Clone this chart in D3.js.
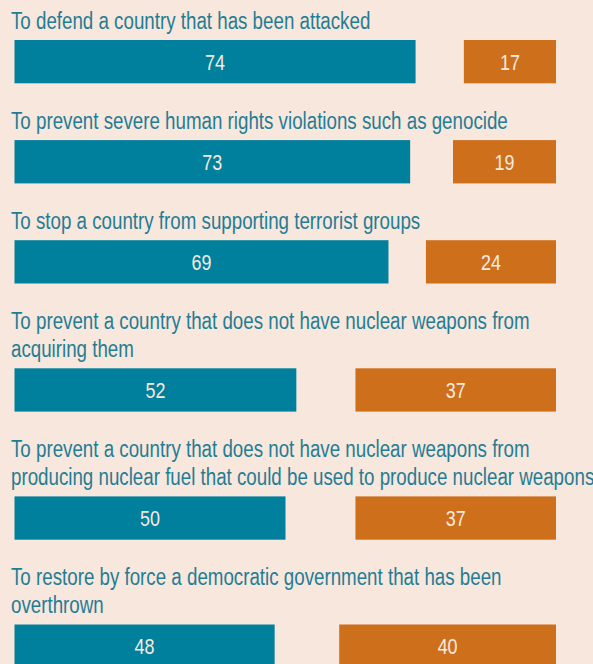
<!DOCTYPE html>
<html>
<head>
<meta charset="utf-8">
<script src="https://cdn.jsdelivr.net/npm/d3@7"></script>
<style>
  html, body { margin: 0; padding: 0; background: #f8e7dc; }
  svg { display: block; }
  .label { fill: #1f7d96; font-family: "Liberation Sans", Arial, sans-serif; font-size: 23px; }
  .value { fill: #f4ebe2; font-family: "Liberation Sans", Arial, sans-serif; font-size: 22px; text-anchor: middle; }
</style>
</head>
<body>
<div id="chart"></div>
<script>
// survey rows: wording split in lines, share for (teal) and against (orange)
var labels = [
    ["To defend a country that has been attacked"],
    ["To prevent severe human rights violations such as genocide"],
    ["To stop a country from supporting terrorist groups"],
    ["To prevent a country that does not have nuclear weapons from", "acquiring them"],
    ["To prevent a country that does not have nuclear weapons from", "producing nuclear fuel that could be used to produce nuclear weapons"],
    ["To restore by force a democratic government that has been", "overthrown"]
];
var approve = [74, 73, 69, 52, 50, 48];
var oppose = [17, 19, 24, 37, 37, 40];

var dim = {
    width: 593, height: 664,
    left: 14.5, right: 556,
    textX: 11,
    narrow: 0.815,     // no condensed face installed, squeeze the regular one
    firstBaseline: 28.8,
    lineHeight: 28,
    barGap: 11.2,      // from last text baseline to bar top
    barHeight: 43.3,
    rowGap: 45.6       // from bar bottom to next text baseline
};

var x = d3.scaleLinear()
        .domain([0, 100])
        .range([0, 542]);

// stack rows vertically, label lines then the bar
var rows = [];
var y = dim.firstBaseline;
labels.forEach(function(lines, i) {
    var row = { lines: lines, yes: approve[i], no: oppose[i], baseline: y };
    var lastBase = y + (lines.length - 1) * dim.lineHeight;
    row.barTop = lastBase + dim.barGap;
    rows.push(row);
    y = row.barTop + dim.barHeight + dim.rowGap;
});

function place(px, py) {
    return "translate(" + px + "," + py + ") scale(" + dim.narrow + ",1)";
}

var svg = d3.select("#chart").append("svg")
        .attr("width", dim.width)
        .attr("height", dim.height);

svg.append("rect")
        .attr("width", dim.width)
        .attr("height", dim.height)
        .attr("fill", "#f8e7dc");

var g = svg.selectAll("g.row").data(rows)
    .enter().append("g")
        .attr("class", "row");

g.each(function(d) {
    d3.select(this).selectAll("text.label").data(d.lines)
        .enter().append("text")
            .attr("class", "label")
            .attr("transform", function(t, j) { return place(dim.textX, d.baseline + j * dim.lineHeight); })
            .text(function(t) { return t; });
});

g.append("rect")
        .attr("x", dim.left)
        .attr("y", function(d) { return d.barTop; })
        .attr("width", function(d) { return x(d.yes); })
        .attr("height", dim.barHeight)
        .attr("fill", "#00809c");

g.append("rect")
        .attr("x", function(d) { return dim.right - x(d.no); })
        .attr("y", function(d) { return d.barTop; })
        .attr("width", function(d) { return x(d.no); })
        .attr("height", dim.barHeight)
        .attr("fill", "#ce6f1b");

g.append("text")
        .attr("class", "value")
        .attr("transform", function(d) { return place(dim.left + x(d.yes) / 2, d.barTop + dim.barHeight / 2 + 8); })
        .text(function(d) { return d.yes; });

g.append("text")
        .attr("class", "value")
        .attr("transform", function(d) { return place(dim.right - x(d.no) / 2, d.barTop + dim.barHeight / 2 + 8); })
        .text(function(d) { return d.no; });
</script>
</body>
</html>
